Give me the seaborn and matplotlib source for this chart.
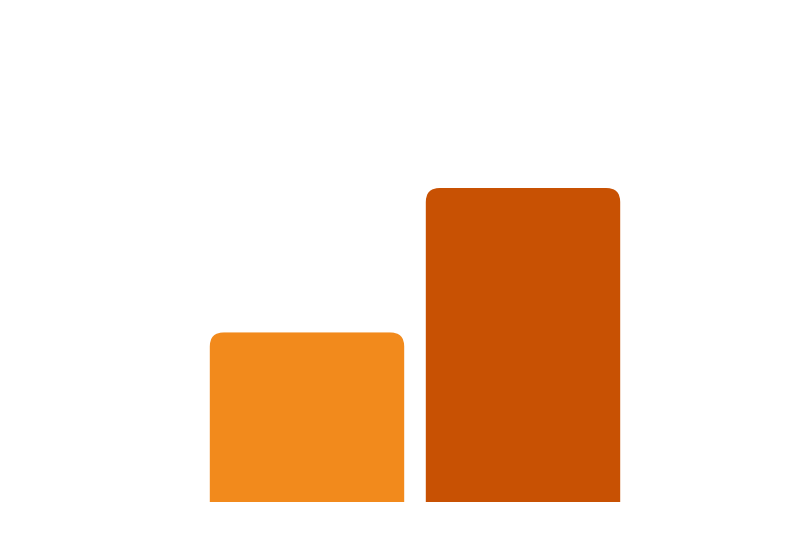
import pandas as pd
import numpy as np
import matplotlib
matplotlib.use('Agg')
import matplotlib.pyplot as plt
import seaborn as sns
from matplotlib.patches import FancyBboxPatch

categories = ['A', 'B']
values = [54, 100]
colors = ['#F28A1C', '#C85103']

df = pd.DataFrame({'cat': categories, 'val': values})

fig = plt.figure(figsize=(8, 5.6), dpi=100)
ax = fig.add_axes([199 / 800, 58 / 560, 432 / 800, 471 / 560])
sns.barplot(data=df, x='cat', y='val', hue='cat', palette=colors,
            width=0.9, saturation=1, legend=False, ax=ax)
ax.set_xlim(-0.5, 1.5)
ax.set_ylim(0, 150)
ax.axis('off')

# swap plain bars for ones with rounded top corners
radius_px = 14
x_per_px = 2 / 432
y_per_px = 150 / 471
r = radius_px * x_per_px
aspect = y_per_px / x_per_px
for p in list(ax.patches):
    x0, w, h = p.get_x(), p.get_width(), p.get_height()
    c = p.get_facecolor()
    p.remove()
    ext = radius_px * y_per_px * 2
    rb = FancyBboxPatch((x0, -ext), w, h + ext,
                        boxstyle=f'round,pad=0,rounding_size={r}',
                        mutation_aspect=aspect, facecolor=c,
                        edgecolor='none', linewidth=0)
    ax.add_patch(rb)

fig.savefig('out.png', dpi=100, facecolor='white')
